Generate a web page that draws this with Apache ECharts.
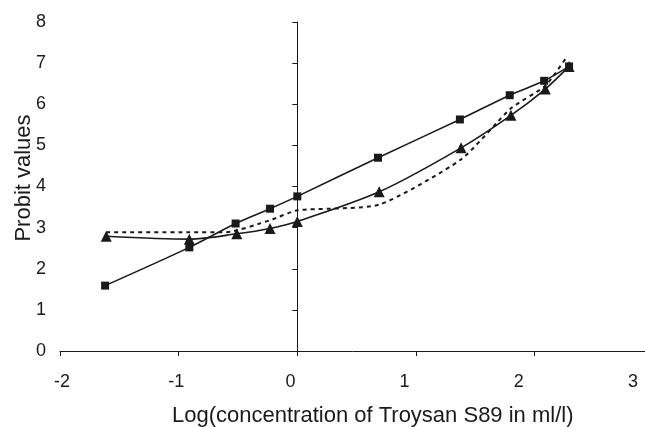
<!DOCTYPE html>
<html>
<head>
<meta charset="utf-8">
<script src="https://cdn.jsdelivr.net/npm/echarts@6/dist/echarts.min.js"></script>
<style>
  html, body { margin: 0; padding: 0; background: #fff; }
  #chart { width: 645px; height: 427px; }
</style>
</head>
<body>
<div id="chart"></div>
<script>
// log concentration values
const squareX = [-1.62, -0.91, -0.52, -0.23, 0.0, 0.68, 1.37, 1.79, 2.08, 2.29];
const squareY = [1.59, 2.52, 3.10, 3.46, 3.76, 4.70, 5.63, 6.22, 6.57, 6.92];

const triangleX = [-1.61, -0.91, -0.51, -0.23, 0.0, 0.69, 1.38, 1.80, 2.09, 2.29];
const triangleY = [2.79, 2.72, 2.85, 2.98, 3.15, 3.87, 4.94, 5.73, 6.37, 6.92];

// dashed expected line
const dashX = [-1.61, -0.91, -0.60, -0.23, 0.0, 0.69, 1.38, 1.80, 2.09, 2.27];
const dashY = [2.89, 2.89, 2.89, 3.18, 3.42, 3.56, 4.66, 5.90, 6.45, 7.15];

const xTicks = [-2, -1, 0, 1, 2, 3];
const yTicks = [0, 1, 2, 3, 4, 5, 6, 7, 8];

const font = "'Liberation Sans', Arial, sans-serif";
const ink = '#1a1a1a';

function pairs(xs, ys) {
    return xs.map((x, i) => [x, ys[i]]);
}

const chart = echarts.init(document.getElementById('chart'));

const option = {
    backgroundColor: '#fff',
    animation: false,
    title: {
        text: 'Log(concentration of Troysan S89 in ml/l)',
        left: 172,
        top: 405,
        padding: 0,
        textStyle: { fontFamily: font, fontSize: 22, fontWeight: 'normal', color: ink }
    },
    grid: [
        // plot area, the axis runs off the right edge before 3
        { left: 60, top: 22, width: 585, height: 329 },
        // label grid, the source picture spaces its x labels a bit tighter
        { left: 62, top: 22, width: 571, height: 312 }
    ],
    xAxis: [
        {
            type: 'value', gridIndex: 0,
            min: xTicks[0], max: 2.93, interval: 1,
            splitLine: { show: false },
            axisLine: { lineStyle: { color: ink, width: 1 } },
            axisTick: { length: 5, lineStyle: { color: ink } },
            axisLabel: { show: false }
        },
        {
            type: 'value', gridIndex: 1,
            min: xTicks[0], max: xTicks[xTicks.length - 1], interval: 1,
            splitLine: { show: false },
            axisLine: { show: false },
            axisTick: { show: false },
            axisLabel: { margin: 39, fontFamily: font, fontSize: 18, color: ink, showMaxLabel: true, showMinLabel: true }
        }
    ],
    yAxis: [
        {
            type: 'value', gridIndex: 0,
            min: yTicks[0], max: yTicks[yTicks.length - 1], interval: 1,
            splitLine: { show: false },
            axisLine: { onZero: true, lineStyle: { color: ink, width: 1 } },
            axisTick: { length: 5, lineStyle: { color: ink } },
            axisLabel: { margin: 14, fontFamily: font, fontSize: 18, color: ink }
        },
        {
            type: 'value', gridIndex: 1,
            min: yTicks[0], max: yTicks[yTicks.length - 1],
            splitLine: { show: false },
            axisLine: { show: false },
            axisTick: { show: false },
            axisLabel: { show: false },
            name: 'Probit values',
            nameLocation: 'middle',
            nameGap: 27,
            nameTextStyle: { fontFamily: font, fontSize: 22, color: ink }
        }
    ],
    series: [
        {
            name: 'dashed',
            type: 'line',
            xAxisIndex: 0, yAxisIndex: 0,
            data: pairs(dashX, dashY),
            showSymbol: false,
            smooth: 0.2,
            lineStyle: { color: ink, width: 2, type: [4, 4] },
            z: 1
        },
        {
            name: 'triangles',
            type: 'line',
            xAxisIndex: 0, yAxisIndex: 0,
            data: pairs(triangleX, triangleY),
            smooth: 0.3,
            symbol: 'triangle',
            symbolSize: 11,
            itemStyle: { color: ink },
            lineStyle: { color: ink, width: 1.6 },
            z: 2
        },
        {
            name: 'squares',
            type: 'line',
            xAxisIndex: 0, yAxisIndex: 0,
            data: pairs(squareX, squareY),
            smooth: 0.3,
            symbol: 'rect',
            symbolSize: 8,
            itemStyle: { color: ink },
            lineStyle: { color: ink, width: 1.6 },
            z: 3
        }
    ]
};

chart.setOption(option);
</script>
</body>
</html>
